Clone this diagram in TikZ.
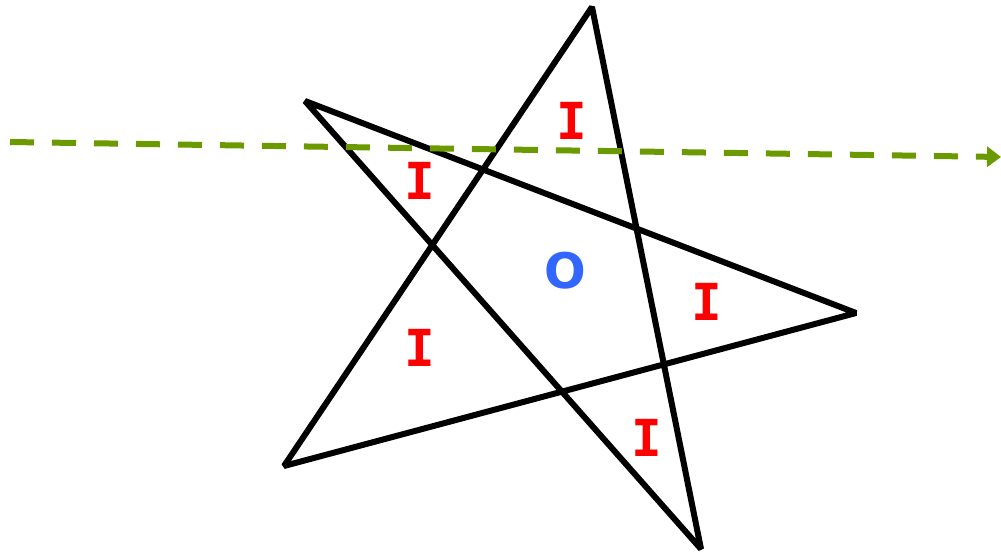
\documentclass[tikz,border=0pt]{standalone}
\usepackage{fontspec}
\newfontfamily\labsans{DejaVu Sans}
\newfontfamily\labmono{DejaVu Sans Mono}
\usetikzlibrary{arrows.meta}
\definecolor{arrowgreen}{HTML}{6A9A00}
\definecolor{labred}{HTML}{FF0000}
\definecolor{labblue}{HTML}{3366FF}
\tikzset{
  starline/.style={line width=6pt, black, line join=bevel},
  ilabel/.style={text=labred, font=\labmono\bfseries\fontsize{51}{51}\selectfont, inner sep=0pt},
  olabel/.style={text=labblue, font=\labsans\bfseries\fontsize{49}{49}\selectfont, inner sep=0pt},
  flowarrow/.style={arrowgreen, line width=6pt, dash pattern=on 24pt off 18pt, -{Triangle[length=14pt,width=20pt]}}
}
\begin{document}
\begin{tikzpicture}[x=1pt,y=-1pt]
\useasboundingbox (0,0) rectangle (1001,553);
\coordinate (A) at (305,101);
\coordinate (B) at (856,313);
\coordinate (C) at (284,466);
\coordinate (D) at (592,7);
\coordinate (E) at (701,549);
\draw[starline] (A) -- (B) -- (C) -- (D) -- (E) -- cycle;
\coordinate (s) at (10,142);
\coordinate (t) at (1001,157);
\draw[flowarrow] (s) -- (t);
\node[ilabel] (i1) at (572,121) {I};
\node[ilabel] (i2) at (420,181) {I};
\node[ilabel] (i3) at (707,302) {I};
\node[ilabel] (i4) at (420,348) {I};
\node[ilabel] (i5) at (647,438) {I};
\node[olabel] (o) at (565,271) {O};
\end{tikzpicture}
\end{document}
